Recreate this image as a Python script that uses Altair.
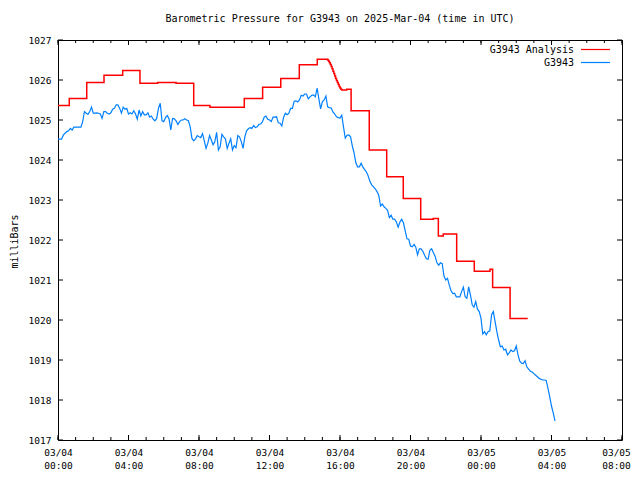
import altair as alt
import pandas as pd

TITLE = "Barometric Pressure for G3943 on 2025-Mar-04 (time in UTC)"
series_names = ["G3943 Analysis", "G3943"]
series_colors = ["#ff0000", "#0080ff"]

# G3943 observations: one value every 6 minutes starting 03/04 00:00 UTC
blue_step_hours = 0.1
blue_values = [
    1024.52, 1024.52, 1024.52, 1024.62, 1024.67, 1024.71, 1024.73, 1024.79, 1024.75, 1024.82,
    1024.82, 1024.82, 1024.82, 1024.82, 1024.96, 1025.21, 1025.17, 1025.14, 1025.21, 1025.32,
    1025.17, 1025.17, 1025.18, 1025.17, 1025.15, 1025.04, 1025.21, 1025.21, 1025.17, 1025.15,
    1025.18, 1025.27, 1025.29, 1025.38, 1025.38, 1025.29, 1025.17, 1025.32, 1025.27, 1025.29,
    1025.15, 1025.18, 1025.15, 1025.23, 1025.15, 1025.02, 1025.25, 1025.10, 1025.21, 1025.13,
    1025.13, 1025.18, 1025.07, 1025.10, 1025.02, 1024.98, 1025.04, 1025.29, 1025.42,
    1024.98, 1024.96, 1025.06, 1025.11, 1025.03, 1024.75, 1025.04, 1025.03, 1024.98, 1024.89,
    1024.96, 1025.00, 1025.00, 1025.03, 1025.00, 1024.98, 1024.83, 1024.54, 1024.48, 1024.53,
    1024.61, 1024.58, 1024.56, 1024.66, 1024.48, 1024.29, 1024.42, 1024.61, 1024.50, 1024.38,
    1024.46, 1024.69, 1024.25, 1024.33, 1024.64, 1024.58, 1024.53, 1024.29, 1024.42, 1024.53,
    1024.25, 1024.36, 1024.31, 1024.61, 1024.58, 1024.46, 1024.29, 1024.58, 1024.73, 1024.78,
    1024.81, 1024.79, 1024.86, 1024.81, 1024.83, 1024.89,
    1024.90, 1024.96, 1025.07, 1025.10, 1025.02, 1025.00, 1024.96, 1025.07, 1025.07, 1025.08,
    1024.93, 1024.92, 1024.85, 1025.07, 1025.17, 1025.13, 1025.17, 1025.29, 1025.29, 1025.47,
    1025.48, 1025.45, 1025.50, 1025.62, 1025.60, 1025.65, 1025.65, 1025.53, 1025.58, 1025.62,
    1025.63, 1025.58, 1025.80, 1025.53, 1025.28, 1025.46, 1025.50, 1025.60, 1025.33, 1025.31,
    1025.30, 1025.20, 1025.15, 1025.08, 1025.06, 1025.05, 1025.12, 1024.82, 1024.55, 1024.62,
    1024.63, 1024.58, 1024.35, 1024.17, 1023.93, 1023.83, 1023.83,
    1023.92, 1023.82, 1023.76, 1023.70, 1023.60, 1023.46, 1023.38, 1023.33, 1023.28, 1023.21,
    1023.12, 1022.85, 1022.90, 1022.83, 1022.79, 1022.74, 1022.56, 1022.62, 1022.52, 1022.52,
    1022.45, 1022.32, 1022.45, 1022.52, 1022.43, 1022.23, 1022.03, 1022.02, 1021.85, 1021.83,
    1021.89, 1021.82, 1021.63, 1021.78, 1021.78, 1021.72, 1021.62, 1021.53, 1021.52, 1021.74,
    1021.78, 1021.68, 1021.59, 1021.43, 1021.37, 1021.43, 1021.41, 1021.10, 1021.00, 1021.04,
    1020.87, 1020.73, 1020.66, 1020.67, 1020.58, 1020.58,
    1020.58, 1020.71, 1020.82, 1020.58, 1020.54, 1020.83, 1020.63, 1020.38, 1020.32, 1020.46,
    1020.27, 1020.21, 1020.04, 1019.65, 1019.71, 1019.63, 1019.71, 1019.73, 1020.13, 1020.21,
    1019.96, 1019.71, 1019.50, 1019.33, 1019.35, 1019.25, 1019.27, 1019.13, 1019.18, 1019.25,
    1019.21, 1019.23, 1019.35, 1019.13, 1018.97, 1018.92, 1018.91, 1018.98, 1018.83, 1018.77,
    1018.72, 1018.70, 1018.66, 1018.62, 1018.58, 1018.54, 1018.52, 1018.50, 1018.50, 1018.49,
    1018.29, 1018.08, 1017.85, 1017.67, 1017.48,
]

# G3943 Analysis: hours since 03/04 00:00 UTC, value held until next point
red_hours = [0, 0.64, 1.63, 2.61, 3.67, 4.65, 5.66, 6.70, 7.70, 8.62,
             10.57, 11.61, 12.64, 13.69, 14.71, 15.30, 15.35, 15.40, 15.45, 15.50,
             15.55, 15.60, 15.65, 15.70, 15.75, 15.80, 15.85, 15.90, 15.95, 16.00,
             16.05, 16.10, 16.38, 16.63, 17.66, 18.65, 19.59, 20.58,
             21.29, 21.58, 21.86, 22.62, 23.62, 24.51, 24.66, 25.65, 26.65]
red_values = [1025.36, 1025.54, 1025.94, 1026.12, 1026.24, 1025.92, 1025.94, 1025.92, 1025.36, 1025.32,
              1025.54, 1025.82, 1026.04, 1026.38, 1026.52, 1026.50, 1026.47, 1026.43, 1026.39, 1026.34,
              1026.28, 1026.22, 1026.16, 1026.10, 1026.04, 1025.99, 1025.94, 1025.89, 1025.84, 1025.80,
              1025.77, 1025.75, 1025.77, 1025.23, 1024.25, 1023.58, 1023.04, 1022.52,
              1022.54, 1022.10, 1022.15, 1021.47, 1021.22, 1021.27, 1020.81, 1020.04, 1020.04]

x_major = list(range(0, 33, 4))
x_minor = list(range(0, 33))
y_ticks = list(range(1017, 1028))

W, H = 564, 400
FONT = "DejaVu Sans Mono"

blue_df = pd.DataFrame({"hours": [round(i * blue_step_hours, 2) for i in range(len(blue_values))],
                        "mbar": blue_values})
red_df = pd.DataFrame({"hours": red_hours, "mbar": red_values})

xscale = alt.Scale(domain=[0, 32], nice=False, zero=False)
yscale = alt.Scale(domain=[1017, 1027], nice=False, zero=False)

label_expr = ("['03/0' + (4 + floor(datum.value / 24)), "
              "(datum.value % 24 < 10 ? '0' : '') + (datum.value % 24) + ':00']")

xaxis = alt.Axis(values=x_major, labelExpr=label_expr, title=None, grid=False, domain=False,
                 ticks=False, labelFont=FONT, labelFontSize=9.5, labelColor="black",
                 labelPadding=7, labelLineHeight=13, labelFlush=False, labelOverlap=False,
                 labelOffset={"condition": {"test": f"datum.value == {x_major[-1]}", "value": -6},
                              "value": 0})
yaxis = alt.Axis(values=y_ticks, format="d", title="milliBars", grid=False, domain=False,
                 ticks=False, labelFont=FONT, labelFontSize=9.5, labelColor="black",
                 labelPadding=7, labelFlush=False, labelOverlap=False,
                 titleFont=FONT, titleFontSize=10, titleFontWeight="normal", titleColor="black",
                 titleX=-44, titleY=201, titleAngle=-90, titleAlign="center", titleBaseline="middle")

X = lambda f: alt.X(f, scale=xscale, axis=xaxis)
Y = lambda f: alt.Y(f, scale=yscale, axis=yaxis)

red_line = alt.Chart(red_df).mark_line(color=series_colors[0], strokeWidth=1.5,
                                       interpolate="step-after").encode(
    x=X("hours:Q"), y=Y("mbar:Q"))
blue_line = alt.Chart(blue_df).mark_line(color=series_colors[1], strokeWidth=1.2).encode(
    x=X("hours:Q"), y=Y("mbar:Q"))


def xticks(values, length, top):
    df = pd.DataFrame({"v": values})
    y0, y1 = (0, length) if top else (H, H - length)
    return alt.Chart(df).mark_rule(color="black", strokeWidth=1).encode(
        x=X("v:Q"), y=alt.value(y0), y2=alt.value(y1))


def yticks(values, length, right):
    df = pd.DataFrame({"v": values})
    x0, x1 = (W, W - length) if right else (0, length)
    return alt.Chart(df).mark_rule(color="black", strokeWidth=1).encode(
        y=Y("v:Q"), x=alt.value(x0), x2=alt.value(x1))


tick_layers = [
    xticks(x_minor, 3, False), xticks(x_minor, 3, True),
    xticks(x_major, 5, False), xticks(x_major, 5, True),
    yticks(y_ticks, 5, False), yticks(y_ticks, 5, True),
]

legend_layers = []
for k, (name, col) in enumerate(zip(series_names, series_colors)):
    ly = 9.5 + 13 * k
    ldf = pd.DataFrame({"name": [name]})
    legend_layers.append(alt.Chart(ldf).mark_text(align="right", baseline="middle", font=FONT,
                                                  fontSize=10, color="black").encode(
        text="name:N", x=alt.value(516), y=alt.value(ly)))
    legend_layers.append(alt.Chart(ldf).mark_rule(color=col, strokeWidth=1.2).encode(
        x=alt.value(523), x2=alt.value(552), y=alt.value(ly)))

chart = alt.layer(red_line, blue_line, *tick_layers, *legend_layers).properties(
    width=W, height=H,
    title=alt.TitleParams(TITLE, font=FONT, fontSize=10, fontWeight="normal", color="black",
                          anchor="middle", offset=11),
    padding={"left": 50, "top": 32, "right": 10, "bottom": 30},
    autosize=alt.AutoSizeParams(type="none"),
    background="white",
).configure_view(stroke="black", strokeWidth=1)

chart.save("out.html", embed_options={"renderer": "svg", "actions": False})
